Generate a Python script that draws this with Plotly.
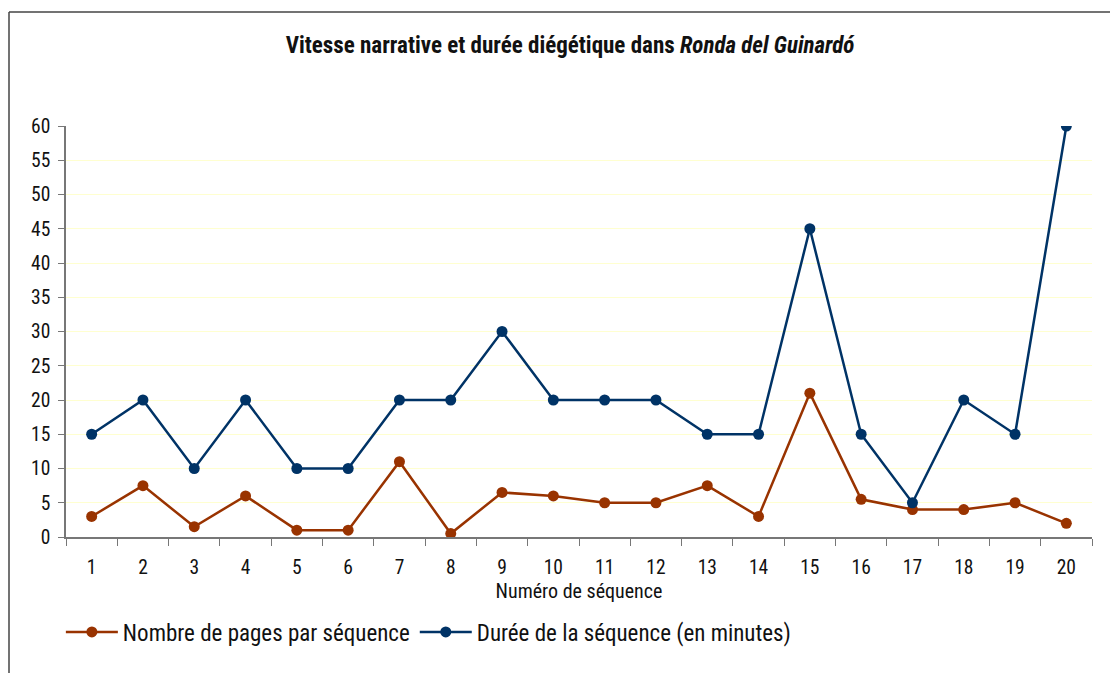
import plotly.graph_objects as go

sequences = [str(i) for i in range(1, 21)]
pages = [3, 7.5, 1.5, 6, 1, 1, 11, 0.5, 6.5, 6, 5, 5, 7.5, 3, 21, 5.5, 4, 4, 5, 2]
duree = [15, 20, 10, 20, 10, 10, 20, 20, 30, 20, 20, 20, 15, 15, 45, 15, 5, 20, 15, 60]

FONT = "Roboto Condensed, Liberation Sans, sans-serif"

# la page a une marge de 8 px : on decale le cadre pour tomber juste
fig = go.Figure()
fig.add_trace(go.Scatter(
    x=sequences, y=pages, mode="lines+markers",
    name="Nombre de pages par séquence",
    line=dict(color="#993300", width=2.5),
    marker=dict(color="#993300", size=11),
))
fig.add_trace(go.Scatter(
    x=sequences, y=duree, mode="lines+markers",
    name="Durée de la séquence (en minutes)",
    line=dict(color="#003366", width=2.5),
    marker=dict(color="#003366", size=11),
))

fig.update_layout(
    width=1118, height=673,
    margin=dict(l=58, r=34, t=118, b=144),
    paper_bgcolor="white", plot_bgcolor="white",
    font=dict(family=FONT, size=19.5, color="#111111"),
    title=dict(
        text="<b>Vitesse narrative et durée diégétique dans <i>Ronda del Guinardó</i></b>",
        x=562 / 1118, xanchor="center", xref="container",
        y=1 - 37 / 673, yanchor="middle",
        font=dict(family=FONT, size=23, color="#111111"),
    ),
    showlegend=True,
    legend=dict(orientation="h", x=-0.005, xanchor="left", y=-0.231, yanchor="middle",
                font=dict(size=23), itemwidth=52, bgcolor="rgba(0,0,0,0)"),
    xaxis=dict(
        type="category", range=[-0.5, 19.5], tickson="boundaries",
        ticks="outside", ticklen=7, tickcolor="#777777",
        showline=True, linecolor="#777777", linewidth=2,
        showgrid=False, tickfont=dict(size=19.5), ticklabelstandoff=12,
        title=dict(text="Numéro de séquence", font=dict(size=20), standoff=2),
    ),
    yaxis=dict(
        range=[0, 60], tickvals=list(range(0, 61, 5)),
        ticks="outside", ticklen=6, tickcolor="#777777",
        showline=True, linecolor="#777777", linewidth=1.5,
        showgrid=True, gridcolor="#FFFFD0", gridwidth=1,
        zeroline=False, tickfont=dict(size=19.5), ticklabelstandoff=4,
    ),
)

# cadre du graphique
x_bord = (1 - 58) / 1026
y_haut = (529 - 4) / 411
fig.add_shape(type="line", xref="paper", yref="paper",
              x0=x_bord, x1=1.1, y0=y_haut, y1=y_haut,
              line=dict(color="#444444", width=1.5))
fig.add_shape(type="line", xref="paper", yref="paper",
              x0=x_bord, x1=x_bord, y0=y_haut, y1=-0.4,
              line=dict(color="#444444", width=1.5))

fig.write_html("out.html")
